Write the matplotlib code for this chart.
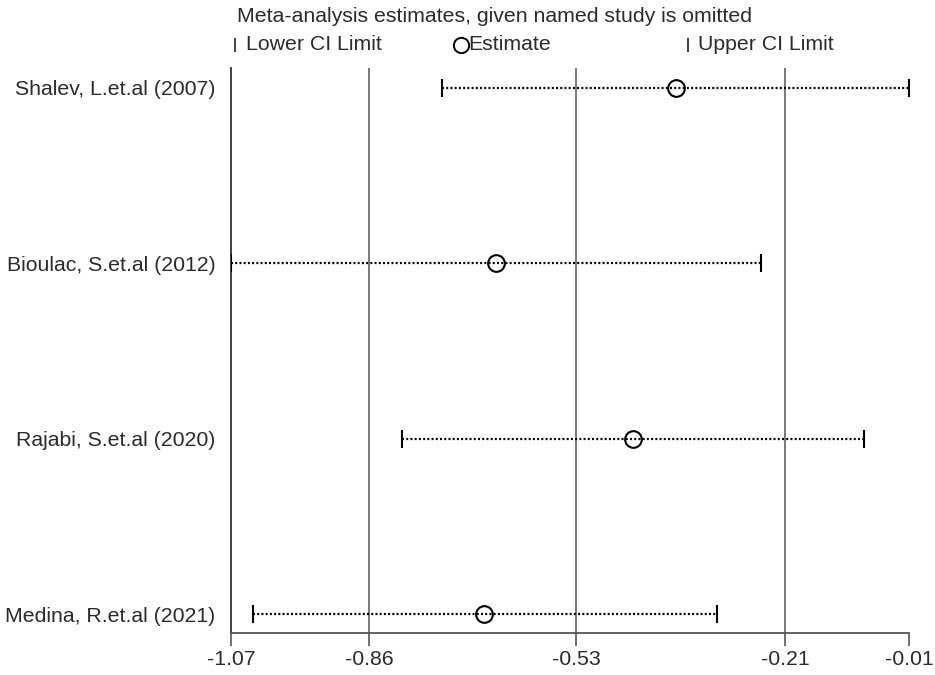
import matplotlib
matplotlib.use("Agg")
import matplotlib.pyplot as plt
from matplotlib.lines import Line2D

studies = ["Shalev, L.et.al (2007)", "Bioulac, S.et.al (2012)",
           "Rajabi, S.et.al (2020)", "Medina, R.et.al (2021)"]
estimate = [-0.374, -0.656, -0.441, -0.674]
lower = [-0.740, -1.070, -0.803, -1.036]
upper = [-0.010, -0.241, -0.080, -0.310]

tick_values = [-1.07, -0.854, -0.53, -0.204, -0.01]
tick_labels = ["-1.07", "-0.86", "-0.53", "-0.21", "-0.01"]
grid_values = tick_values[1:4]

plt.rcParams['font.family'] = ['Liberation Sans', 'DejaVu Sans']
TXT = '#2b2b2b'
FS = 15.3

fig = plt.figure(figsize=(9.35, 6.75), dpi=100)
ax = fig.add_axes([231/935, 1-633/675, (909-231)/935, (633-68)/675])

for g in grid_values:
    ax.axvline(g, color='#6e6e6e', lw=1.3, zorder=1)

ypos = list(range(len(studies)))
for i in ypos:
    ax.plot([lower[i], upper[i]], [i, i], color='black', lw=1.6,
            linestyle=(0, (0.9, 1.0)), zorder=2)
    ax.plot([lower[i], upper[i]], [i, i], linestyle='none', marker='|',
            markersize=12.5, mew=1.5, color='black', zorder=3)
ax.plot(estimate, ypos, linestyle='none', marker='o', markersize=12,
        mfc='none', mec='black', mew=1.5, zorder=4)

ax.set_xlim(-1.07, -0.01)
ax.set_ylim(len(studies) - 1 + 0.108, -0.114)
ax.set_yticks(ypos)
ax.set_yticklabels(studies, fontsize=FS, color=TXT)
ax.tick_params(axis='y', length=0, pad=11)
ax.set_xticks(tick_values)
ax.set_xticklabels(tick_labels, fontsize=FS, color=TXT)
ax.tick_params(axis='x', length=9, width=1.2, color='#555555', pad=3)

for s in ['top', 'right']:
    ax.spines[s].set_visible(False)
ax.spines['left'].set_color('#333333')
ax.spines['left'].set_linewidth(1.3)
ax.spines['bottom'].set_color('#555555')
ax.spines['bottom'].set_linewidth(1.3)

# title and legend
fig.text(237/935, 1-17/675, "Meta-analysis estimates, given named study is omitted",
         fontsize=FS, color=TXT, ha='left', va='center')
ly = 1-45/675
fig.add_artist(Line2D([235/935], [ly], marker='|', markersize=10, mew=1.3,
                      color='#333333', transform=fig.transFigure))
fig.text(246/935, ly, "Lower CI Limit", fontsize=FS, color=TXT, ha='left', va='center')
fig.add_artist(Line2D([461/935], [ly], marker='o', markersize=11, mfc='none',
                      mec='black', mew=1.4, transform=fig.transFigure))
fig.text(468/935, ly, "Estimate", fontsize=FS, color=TXT, ha='left', va='center')
fig.add_artist(Line2D([688/935], [ly], marker='|', markersize=10, mew=1.3,
                      color='#333333', transform=fig.transFigure))
fig.text(698/935, ly, "Upper CI Limit", fontsize=FS, color=TXT, ha='left', va='center')

fig.savefig("out.png", dpi=100)
